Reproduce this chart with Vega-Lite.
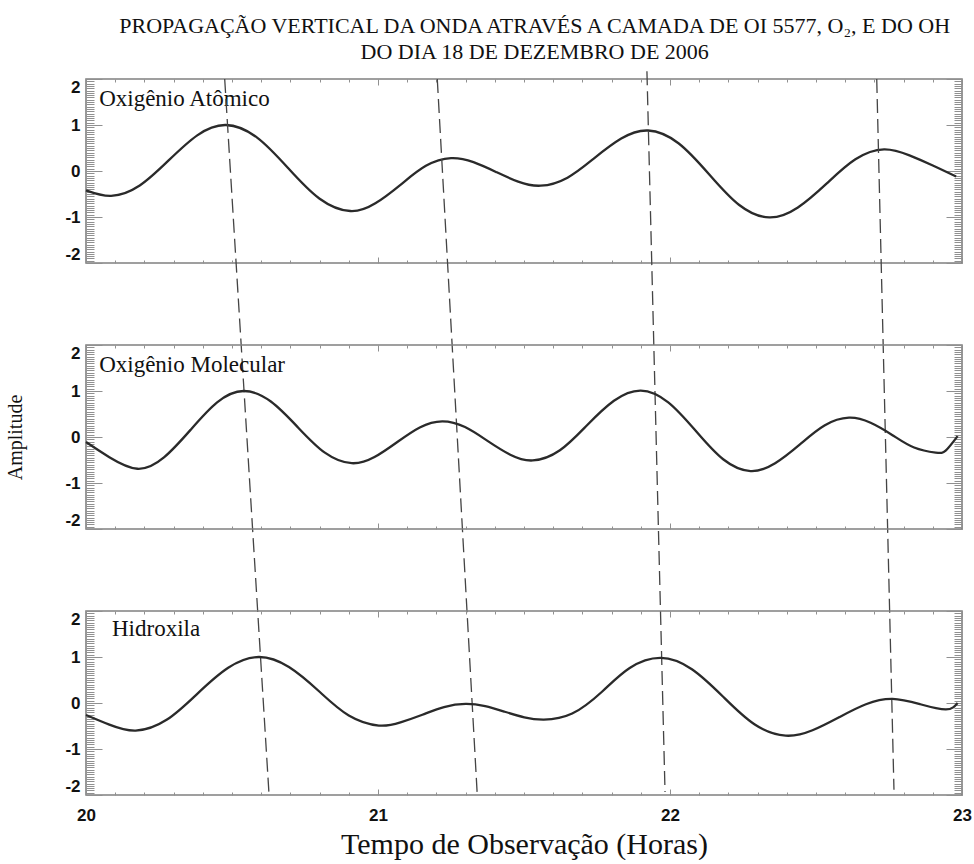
{
  "$schema": "https://vega.github.io/schema/vega-lite/v6.json",
  "background": "white",
  "padding": {"left": 5, "top": 14, "right": 0, "bottom": 0},
  "title": {
    "text": ["PROPAGAÇÃO VERTICAL DA ONDA ATRAVÉS A CAMADA DE OI 5577, O₂, E DO OH", "DO DIA 18 DE DEZEMBRO DE 2006"],
    "font": "Liberation Serif, serif",
    "fontSize": 22,
    "fontWeight": "normal",
    "color": "#111",
    "anchor": "middle",
    "lineHeight": 26,
    "offset": 4,
    "dx": 46
  },
  "config": {
    "view": {"stroke": "#808080", "strokeWidth": 1.6},
    "axis": {
      "domain": false,
      "grid": false,
      "tickColor": "#909090",
      "tickWidth": 1,
      "labelFont": "Liberation Sans Narrow, Liberation Sans, sans-serif",
      "labelFontWeight": "bold",
      "labelFontSize": 17,
      "labelColor": "#111",
      "labelOverlap": false,
      "titleFont": "Liberation Serif, serif",
      "titleFontWeight": "normal",
      "titleColor": "#111"
    }
  },
  "datasets": {
    "curves": [
      {"panel": "A", "t": 20.0, "amp": -0.42},
      {"panel": "A", "t": 20.086, "amp": -0.54},
      {"panel": "A", "t": 20.184, "amp": -0.315},
      {"panel": "A", "t": 20.283, "amp": 0.23},
      {"panel": "A", "t": 20.381, "amp": 0.775},
      {"panel": "A", "t": 20.479, "amp": 1.0},
      {"panel": "A", "t": 20.586, "amp": 0.727},
      {"panel": "A", "t": 20.692, "amp": 0.065},
      {"panel": "A", "t": 20.799, "amp": -0.597},
      {"panel": "A", "t": 20.905, "amp": -0.87},
      {"panel": "A", "t": 20.991, "amp": -0.702},
      {"panel": "A", "t": 21.078, "amp": -0.295},
      {"panel": "A", "t": 21.164, "amp": 0.112},
      {"panel": "A", "t": 21.25, "amp": 0.28},
      {"panel": "A", "t": 21.327, "amp": 0.192},
      {"panel": "A", "t": 21.404, "amp": -0.02},
      {"panel": "A", "t": 21.48, "amp": -0.232},
      {"panel": "A", "t": 21.557, "amp": -0.32},
      {"panel": "A", "t": 21.649, "amp": -0.145},
      {"panel": "A", "t": 21.741, "amp": 0.28},
      {"panel": "A", "t": 21.833, "amp": 0.705},
      {"panel": "A", "t": 21.925, "amp": 0.88},
      {"panel": "A", "t": 22.029, "amp": 0.604},
      {"panel": "A", "t": 22.133, "amp": -0.065},
      {"panel": "A", "t": 22.236, "amp": -0.734},
      {"panel": "A", "t": 22.34, "amp": -1.01},
      {"panel": "A", "t": 22.438, "amp": -0.794},
      {"panel": "A", "t": 22.537, "amp": -0.27},
      {"panel": "A", "t": 22.635, "amp": 0.254},
      {"panel": "A", "t": 22.733, "amp": 0.47},
      {"panel": "A", "t": 22.82, "amp": 0.34},
      {"panel": "A", "t": 22.9, "amp": 0.12},
      {"panel": "A", "t": 22.98, "amp": -0.12},
      {"panel": "B", "t": 20.0, "amp": -0.11},
      {"panel": "B", "t": 20.08, "amp": -0.44},
      {"panel": "B", "t": 20.176, "amp": -0.69},
      {"panel": "B", "t": 20.267, "amp": -0.443},
      {"panel": "B", "t": 20.358, "amp": 0.155},
      {"panel": "B", "t": 20.449, "amp": 0.753},
      {"panel": "B", "t": 20.54, "amp": 1.0},
      {"panel": "B", "t": 20.633, "amp": 0.771},
      {"panel": "B", "t": 20.725, "amp": 0.215},
      {"panel": "B", "t": 20.818, "amp": -0.341},
      {"panel": "B", "t": 20.91, "amp": -0.57},
      {"panel": "B", "t": 20.988, "amp": -0.437},
      {"panel": "B", "t": 21.065, "amp": -0.115},
      {"panel": "B", "t": 21.143, "amp": 0.207},
      {"panel": "B", "t": 21.22, "amp": 0.34},
      {"panel": "B", "t": 21.298, "amp": 0.216},
      {"panel": "B", "t": 21.375, "amp": -0.085},
      {"panel": "B", "t": 21.453, "amp": -0.386},
      {"panel": "B", "t": 21.53, "amp": -0.51},
      {"panel": "B", "t": 21.623, "amp": -0.288},
      {"panel": "B", "t": 21.715, "amp": 0.25},
      {"panel": "B", "t": 21.808, "amp": 0.788},
      {"panel": "B", "t": 21.9, "amp": 1.01},
      {"panel": "B", "t": 21.994, "amp": 0.754},
      {"panel": "B", "t": 22.088, "amp": 0.135},
      {"panel": "B", "t": 22.182, "amp": -0.484},
      {"panel": "B", "t": 22.276, "amp": -0.74},
      {"panel": "B", "t": 22.36, "amp": -0.57},
      {"panel": "B", "t": 22.445, "amp": -0.16},
      {"panel": "B", "t": 22.529, "amp": 0.251},
      {"panel": "B", "t": 22.613, "amp": 0.42},
      {"panel": "B", "t": 22.687, "amp": 0.309},
      {"panel": "B", "t": 22.762, "amp": 0.04},
      {"panel": "B", "t": 22.836, "amp": -0.229},
      {"panel": "B", "t": 22.91, "amp": -0.34},
      {"panel": "B", "t": 22.945, "amp": -0.29},
      {"panel": "B", "t": 22.985, "amp": 0.02},
      {"panel": "C", "t": 20.0, "amp": -0.26},
      {"panel": "C", "t": 20.08, "amp": -0.47},
      {"panel": "C", "t": 20.17, "amp": -0.6},
      {"panel": "C", "t": 20.276, "amp": -0.366},
      {"panel": "C", "t": 20.381, "amp": 0.2},
      {"panel": "C", "t": 20.487, "amp": 0.766},
      {"panel": "C", "t": 20.592, "amp": 1.0},
      {"panel": "C", "t": 20.695, "amp": 0.782},
      {"panel": "C", "t": 20.798, "amp": 0.255},
      {"panel": "C", "t": 20.9, "amp": -0.272},
      {"panel": "C", "t": 21.003, "amp": -0.49},
      {"panel": "C", "t": 21.077, "amp": -0.421},
      {"panel": "C", "t": 21.152, "amp": -0.255},
      {"panel": "C", "t": 21.226, "amp": -0.089},
      {"panel": "C", "t": 21.3, "amp": -0.02},
      {"panel": "C", "t": 21.367, "amp": -0.07},
      {"panel": "C", "t": 21.434, "amp": -0.19},
      {"panel": "C", "t": 21.501, "amp": -0.31},
      {"panel": "C", "t": 21.568, "amp": -0.36},
      {"panel": "C", "t": 21.665, "amp": -0.23},
      {"panel": "C", "t": 21.768, "amp": 0.25},
      {"panel": "C", "t": 21.862, "amp": 0.76},
      {"panel": "C", "t": 21.968, "amp": 0.98},
      {"panel": "C", "t": 22.075, "amp": 0.733},
      {"panel": "C", "t": 22.182, "amp": 0.135},
      {"panel": "C", "t": 22.289, "amp": -0.463},
      {"panel": "C", "t": 22.396, "amp": -0.71},
      {"panel": "C", "t": 22.488, "amp": -0.593},
      {"panel": "C", "t": 22.579, "amp": -0.31},
      {"panel": "C", "t": 22.671, "amp": -0.027},
      {"panel": "C", "t": 22.762, "amp": 0.09},
      {"panel": "C", "t": 22.856, "amp": -0.025},
      {"panel": "C", "t": 22.945, "amp": -0.14},
      {"panel": "C", "t": 22.985, "amp": 0.0}
    ],
    "dashes": [
      {"line": 1, "t": 20.475, "amp": 2},
      {"line": 1, "t": 20.627, "amp": -13.57},
      {"line": 2, "t": 21.203, "amp": 2},
      {"line": 2, "t": 21.34, "amp": -13.57},
      {"line": 3, "t": 21.921, "amp": 2.17},
      {"line": 3, "t": 21.983, "amp": -13.5},
      {"line": 4, "t": 22.708, "amp": 2},
      {"line": 4, "t": 22.767, "amp": -13.45}
    ]
  },
  "vconcat": [
    {
      "width": 876,
      "height": 184,
      "data": {"name": "curves"},
      "transform": [{"filter": "datum.panel === 'A'"}],
      "resolve": {"axis": {"x": "independent", "y": "independent"}},
      "layer": [
        {
          "mark": {"type": "line", "interpolate": "natural", "color": "#2a2a2a", "strokeWidth": 2.3},
          "encoding": {
            "x": {"field": "t", "type": "quantitative", "scale": {"domain": [20, 23], "nice": false, "zero": false},
              "axis": {"orient": "bottom", "labels": false, "title": null,
                "values": [20,20.1,20.2,20.3,20.4,20.5,20.6,20.7,20.8,20.9,21,21.1,21.2,21.3,21.4,21.5,21.6,21.7,21.8,21.9,22,22.1,22.2,22.3,22.4,22.5,22.6,22.7,22.8,22.9,23],
                "tickSize": {"condition": {"test": "datum.value % 1 === 0", "value": -6}, "value": -3}}},
            "y": {"field": "amp", "type": "quantitative", "scale": {"domain": [-2, 2], "nice": false, "zero": false},
              "axis": {"orient": "left", "title": null, "labelFlush": true,
                "values": [-2,-1.95,-1.9,-1.85,-1.8,-1.75,-1.7,-1.65,-1.6,-1.55,-1.5,-1.45,-1.4,-1.35,-1.3,-1.25,-1.2,-1.15,-1.1,-1.05,-1,-0.95,-0.9,-0.85,-0.8,-0.75,-0.7,-0.65,-0.6,-0.55,-0.5,-0.45,-0.4,-0.35,-0.3,-0.25,-0.2,-0.15,-0.1,-0.05,0,0.05,0.1,0.15,0.2,0.25,0.3,0.35,0.4,0.45,0.5,0.55,0.6,0.65,0.7,0.75,0.8,0.85,0.9,0.95,1,1.05,1.1,1.15,1.2,1.25,1.3,1.35,1.4,1.45,1.5,1.55,1.6,1.65,1.7,1.75,1.8,1.85,1.9,1.95,2],
                "labelExpr": "datum.value % 1 === 0 ? '' + datum.value : ''",
                "labelPadding": 22,
                "tickSize": {"condition": {"test": "datum.value % 1 === 0", "value": -16}, "value": -8}}}
          }
        },
        {
          "mark": {"type": "line", "opacity": 0},
          "encoding": {
            "x": {"field": "t", "type": "quantitative", "scale": {"domain": [20, 23], "nice": false, "zero": false},
              "axis": {"orient": "top", "labels": false, "title": null,
                "values": [20,20.1,20.2,20.3,20.4,20.5,20.6,20.7,20.8,20.9,21,21.1,21.2,21.3,21.4,21.5,21.6,21.7,21.8,21.9,22,22.1,22.2,22.3,22.4,22.5,22.6,22.7,22.8,22.9,23],
                "tickSize": {"condition": {"test": "datum.value % 1 === 0", "value": -6}, "value": -3}}},
            "y": {"field": "amp", "type": "quantitative", "scale": {"domain": [-2, 2], "nice": false, "zero": false},
              "axis": {"orient": "right", "title": null, "labels": false,
                "values": [-2,-1.95,-1.9,-1.85,-1.8,-1.75,-1.7,-1.65,-1.6,-1.55,-1.5,-1.45,-1.4,-1.35,-1.3,-1.25,-1.2,-1.15,-1.1,-1.05,-1,-0.95,-0.9,-0.85,-0.8,-0.75,-0.7,-0.65,-0.6,-0.55,-0.5,-0.45,-0.4,-0.35,-0.3,-0.25,-0.2,-0.15,-0.1,-0.05,0,0.05,0.1,0.15,0.2,0.25,0.3,0.35,0.4,0.45,0.5,0.55,0.6,0.65,0.7,0.75,0.8,0.85,0.9,0.95,1,1.05,1.1,1.15,1.2,1.25,1.3,1.35,1.4,1.45,1.5,1.55,1.6,1.65,1.7,1.75,1.8,1.85,1.9,1.95,2],
                "tickSize": {"condition": {"test": "datum.value % 1 === 0", "value": -16}, "value": -8}}}
          }
        },
        {
          "data": {"values": [{"label": "Oxigênio Atômico"}]},
          "mark": {"type": "text", "font": "Liberation Serif, serif", "fontSize": 23, "align": "left", "baseline": "alphabetic", "color": "#111"},
          "encoding": {
            "x": {"datum": 20.045, "type": "quantitative", "axis": null},
            "y": {"datum": 1.42, "type": "quantitative", "axis": null},
            "text": {"field": "label"}
          }
        },
        {
          "data": {"name": "dashes"},
          "mark": {"type": "line", "color": "#444", "strokeWidth": 1.3, "strokeDash": [14, 6], "clip": false},
          "encoding": {
            "x": {"field": "t", "type": "quantitative", "axis": null},
            "y": {"field": "amp", "type": "quantitative", "axis": null},
            "detail": {"field": "line"}
          }
        }
      ]
    },
    {
      "width": 876,
      "height": 184,
      "data": {"name": "curves"},
      "transform": [{"filter": "datum.panel === 'B'"}],
      "resolve": {"axis": {"x": "independent", "y": "independent"}},
      "layer": [
        {
          "mark": {"type": "line", "interpolate": "natural", "color": "#2a2a2a", "strokeWidth": 2.3},
          "encoding": {
            "x": {"field": "t", "type": "quantitative", "scale": {"domain": [20, 23], "nice": false, "zero": false},
              "axis": {"orient": "bottom", "labels": false, "title": null,
                "values": [20,20.1,20.2,20.3,20.4,20.5,20.6,20.7,20.8,20.9,21,21.1,21.2,21.3,21.4,21.5,21.6,21.7,21.8,21.9,22,22.1,22.2,22.3,22.4,22.5,22.6,22.7,22.8,22.9,23],
                "tickSize": {"condition": {"test": "datum.value % 1 === 0", "value": -6}, "value": -3}}},
            "y": {"field": "amp", "type": "quantitative", "scale": {"domain": [-2, 2], "nice": false, "zero": false},
              "axis": {"orient": "left", "title": "Amplitude", "titleFontSize": 20, "titlePadding": 39, "labelFlush": true,
                "values": [-2,-1.95,-1.9,-1.85,-1.8,-1.75,-1.7,-1.65,-1.6,-1.55,-1.5,-1.45,-1.4,-1.35,-1.3,-1.25,-1.2,-1.15,-1.1,-1.05,-1,-0.95,-0.9,-0.85,-0.8,-0.75,-0.7,-0.65,-0.6,-0.55,-0.5,-0.45,-0.4,-0.35,-0.3,-0.25,-0.2,-0.15,-0.1,-0.05,0,0.05,0.1,0.15,0.2,0.25,0.3,0.35,0.4,0.45,0.5,0.55,0.6,0.65,0.7,0.75,0.8,0.85,0.9,0.95,1,1.05,1.1,1.15,1.2,1.25,1.3,1.35,1.4,1.45,1.5,1.55,1.6,1.65,1.7,1.75,1.8,1.85,1.9,1.95,2],
                "labelExpr": "datum.value % 1 === 0 ? '' + datum.value : ''",
                "labelPadding": 22,
                "tickSize": {"condition": {"test": "datum.value % 1 === 0", "value": -16}, "value": -8}}}
          }
        },
        {
          "mark": {"type": "line", "opacity": 0},
          "encoding": {
            "x": {"field": "t", "type": "quantitative", "scale": {"domain": [20, 23], "nice": false, "zero": false},
              "axis": {"orient": "top", "labels": false, "title": null,
                "values": [20,20.1,20.2,20.3,20.4,20.5,20.6,20.7,20.8,20.9,21,21.1,21.2,21.3,21.4,21.5,21.6,21.7,21.8,21.9,22,22.1,22.2,22.3,22.4,22.5,22.6,22.7,22.8,22.9,23],
                "tickSize": {"condition": {"test": "datum.value % 1 === 0", "value": -6}, "value": -3}}},
            "y": {"field": "amp", "type": "quantitative", "scale": {"domain": [-2, 2], "nice": false, "zero": false},
              "axis": {"orient": "right", "title": null, "labels": false,
                "values": [-2,-1.95,-1.9,-1.85,-1.8,-1.75,-1.7,-1.65,-1.6,-1.55,-1.5,-1.45,-1.4,-1.35,-1.3,-1.25,-1.2,-1.15,-1.1,-1.05,-1,-0.95,-0.9,-0.85,-0.8,-0.75,-0.7,-0.65,-0.6,-0.55,-0.5,-0.45,-0.4,-0.35,-0.3,-0.25,-0.2,-0.15,-0.1,-0.05,0,0.05,0.1,0.15,0.2,0.25,0.3,0.35,0.4,0.45,0.5,0.55,0.6,0.65,0.7,0.75,0.8,0.85,0.9,0.95,1,1.05,1.1,1.15,1.2,1.25,1.3,1.35,1.4,1.45,1.5,1.55,1.6,1.65,1.7,1.75,1.8,1.85,1.9,1.95,2],
                "tickSize": {"condition": {"test": "datum.value % 1 === 0", "value": -16}, "value": -8}}}
          }
        },
        {
          "data": {"values": [{"label": "Oxigênio Molecular"}]},
          "mark": {"type": "text", "font": "Liberation Serif, serif", "fontSize": 23, "align": "left", "baseline": "alphabetic", "color": "#111"},
          "encoding": {
            "x": {"datum": 20.045, "type": "quantitative", "axis": null},
            "y": {"datum": 1.42, "type": "quantitative", "axis": null},
            "text": {"field": "label"}
          }
        }
      ]
    },
    {
      "width": 876,
      "height": 184,
      "data": {"name": "curves"},
      "transform": [{"filter": "datum.panel === 'C'"}],
      "resolve": {"axis": {"x": "independent", "y": "independent"}},
      "layer": [
        {
          "mark": {"type": "line", "interpolate": "natural", "color": "#2a2a2a", "strokeWidth": 2.3},
          "encoding": {
            "x": {"field": "t", "type": "quantitative", "scale": {"domain": [20, 23], "nice": false, "zero": false},
              "axis": {"orient": "bottom", "title": "Tempo de Observação (Horas)", "titleFontSize": 30, "titlePadding": 3,
                "labelFlush": false,
                "values": [20,20.1,20.2,20.3,20.4,20.5,20.6,20.7,20.8,20.9,21,21.1,21.2,21.3,21.4,21.5,21.6,21.7,21.8,21.9,22,22.1,22.2,22.3,22.4,22.5,22.6,22.7,22.8,22.9,23],
                "labelExpr": "datum.value % 1 === 0 ? '' + datum.value : ''",
                "labelPadding": 18,
                "tickSize": {"condition": {"test": "datum.value % 1 === 0", "value": -6}, "value": -3}}},
            "y": {"field": "amp", "type": "quantitative", "scale": {"domain": [-2, 2], "nice": false, "zero": false},
              "axis": {"orient": "left", "title": null, "labelFlush": true,
                "values": [-2,-1.95,-1.9,-1.85,-1.8,-1.75,-1.7,-1.65,-1.6,-1.55,-1.5,-1.45,-1.4,-1.35,-1.3,-1.25,-1.2,-1.15,-1.1,-1.05,-1,-0.95,-0.9,-0.85,-0.8,-0.75,-0.7,-0.65,-0.6,-0.55,-0.5,-0.45,-0.4,-0.35,-0.3,-0.25,-0.2,-0.15,-0.1,-0.05,0,0.05,0.1,0.15,0.2,0.25,0.3,0.35,0.4,0.45,0.5,0.55,0.6,0.65,0.7,0.75,0.8,0.85,0.9,0.95,1,1.05,1.1,1.15,1.2,1.25,1.3,1.35,1.4,1.45,1.5,1.55,1.6,1.65,1.7,1.75,1.8,1.85,1.9,1.95,2],
                "labelExpr": "datum.value % 1 === 0 ? '' + datum.value : ''",
                "labelPadding": 22,
                "tickSize": {"condition": {"test": "datum.value % 1 === 0", "value": -16}, "value": -8}}}
          }
        },
        {
          "mark": {"type": "line", "opacity": 0},
          "encoding": {
            "x": {"field": "t", "type": "quantitative", "scale": {"domain": [20, 23], "nice": false, "zero": false},
              "axis": {"orient": "top", "labels": false, "title": null,
                "values": [20,20.1,20.2,20.3,20.4,20.5,20.6,20.7,20.8,20.9,21,21.1,21.2,21.3,21.4,21.5,21.6,21.7,21.8,21.9,22,22.1,22.2,22.3,22.4,22.5,22.6,22.7,22.8,22.9,23],
                "tickSize": {"condition": {"test": "datum.value % 1 === 0", "value": -6}, "value": -3}}},
            "y": {"field": "amp", "type": "quantitative", "scale": {"domain": [-2, 2], "nice": false, "zero": false},
              "axis": {"orient": "right", "title": null, "labels": false,
                "values": [-2,-1.95,-1.9,-1.85,-1.8,-1.75,-1.7,-1.65,-1.6,-1.55,-1.5,-1.45,-1.4,-1.35,-1.3,-1.25,-1.2,-1.15,-1.1,-1.05,-1,-0.95,-0.9,-0.85,-0.8,-0.75,-0.7,-0.65,-0.6,-0.55,-0.5,-0.45,-0.4,-0.35,-0.3,-0.25,-0.2,-0.15,-0.1,-0.05,0,0.05,0.1,0.15,0.2,0.25,0.3,0.35,0.4,0.45,0.5,0.55,0.6,0.65,0.7,0.75,0.8,0.85,0.9,0.95,1,1.05,1.1,1.15,1.2,1.25,1.3,1.35,1.4,1.45,1.5,1.55,1.6,1.65,1.7,1.75,1.8,1.85,1.9,1.95,2],
                "tickSize": {"condition": {"test": "datum.value % 1 === 0", "value": -16}, "value": -8}}}
          }
        },
        {
          "data": {"values": [{"label": "Hidroxila"}]},
          "mark": {"type": "text", "font": "Liberation Serif, serif", "fontSize": 23, "align": "left", "baseline": "alphabetic", "color": "#111"},
          "encoding": {
            "x": {"datum": 20.089, "type": "quantitative", "axis": null},
            "y": {"datum": 1.46, "type": "quantitative", "axis": null},
            "text": {"field": "label"}
          }
        }
      ]
    }
  ],
  "spacing": 82,
  "bounds": "flush"
}
